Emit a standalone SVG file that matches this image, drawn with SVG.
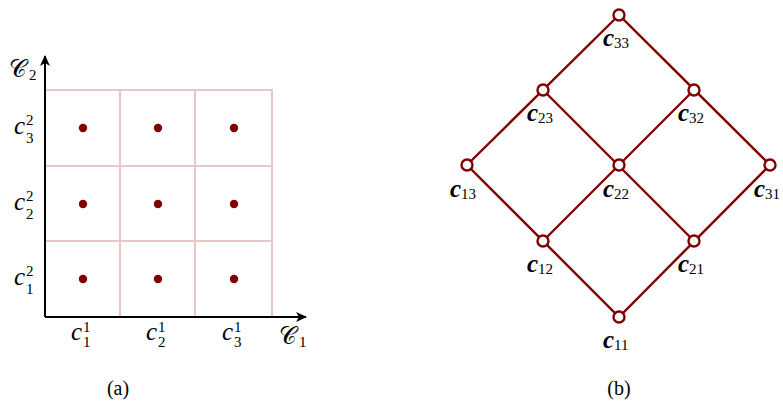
<svg xmlns="http://www.w3.org/2000/svg" width="783" height="407" viewBox="0 0 783 407">
<style>
.grid{stroke:#e6c8c8;stroke-width:2;fill:none}
.axis{stroke:#000;stroke-width:2;fill:none}
.dot{fill:#800000}
.edge{stroke:#800000;stroke-width:2.4;fill:none}
.node{stroke:#800000;stroke-width:2.4;fill:#fff}
.m{font-family:"Liberation Serif",serif;font-style:italic;font-size:25px;fill:#000}
.s{font-family:"Liberation Serif",serif;font-style:normal;font-weight:normal;font-size:15px;fill:#000}
.b{font-family:"Liberation Serif",serif;font-style:italic;font-weight:bold;font-size:25px;fill:#000}
.cal{font-family:"DejaVu Serif","Liberation Serif",serif;font-style:normal;font-size:24px;fill:#000}
.cap{font-family:"Liberation Serif",serif;font-size:20px;fill:#000}
</style>
<defs>
<marker id="arr" markerWidth="12" markerHeight="10" refX="10" refY="5" orient="auto" markerUnits="userSpaceOnUse">
<path d="M0,0 L11,5 L0,10 L3,5 Z" fill="#000"/>
</marker>
</defs>
<g id="panel-a">
<g id="grid">
<path class="grid" d="M45,90 H272 V317 M120,90 V317 M195,90 V317 M45,166 H272 M45,241 H272"/>
</g>
<g id="axes">
<line class="axis" x1="45" y1="317" x2="45" y2="56" marker-end="url(#arr)"/>
<line class="axis" x1="45" y1="317" x2="306" y2="317" marker-end="url(#arr)"/>
</g>
<g id="points">
<circle class="dot" cx="83" cy="128" r="4.2"/><circle class="dot" cx="158" cy="128" r="4.2"/><circle class="dot" cx="234" cy="128" r="4.2"/>
<circle class="dot" cx="83" cy="204" r="4.2"/><circle class="dot" cx="158" cy="204" r="4.2"/><circle class="dot" cx="234" cy="204" r="4.2"/>
<circle class="dot" cx="83" cy="279" r="4.2"/><circle class="dot" cx="158" cy="279" r="4.2"/><circle class="dot" cx="234" cy="279" r="4.2"/>
</g>
<g id="axis-labels">
<text class="cal" x="9" y="77">𝒞</text><text class="s" x="29" y="80">2</text>
<text class="cal" x="279" y="344">𝒞</text><text class="s" x="299" y="347">1</text>
<text class="m" x="14" y="134">c</text><text class="s" x="26" y="125">2</text><text class="s" x="26" y="143">3</text>
<text class="m" x="14" y="210">c</text><text class="s" x="26" y="201">2</text><text class="s" x="26" y="219">2</text>
<text class="m" x="14" y="285">c</text><text class="s" x="26" y="276">2</text><text class="s" x="26" y="294">1</text>
<text class="m" x="71" y="340">c</text><text class="s" x="83" y="332">1</text><text class="s" x="83" y="347">1</text>
<text class="m" x="146" y="340">c</text><text class="s" x="158" y="332">1</text><text class="s" x="158" y="347">2</text>
<text class="m" x="222" y="340">c</text><text class="s" x="234" y="332">1</text><text class="s" x="234" y="347">3</text>
</g>
<text class="cap" x="118" y="395" text-anchor="middle">(a)</text>
</g>
<g id="panel-b">
<g id="connectors">
<path class="edge" d="M619,15 L467,165 L619,317 L770,165 Z M543,90 L694,241 M694,90 L543,241"/>
</g>
<g id="n33"><circle class="node" cx="619" cy="15" r="5.5"/><text class="b" x="603" y="46">c<tspan class="s" dy="2">33</tspan></text></g>
<g id="n23"><circle class="node" cx="543" cy="90" r="5.5"/><text class="b" x="527" y="121">c<tspan class="s" dy="2">23</tspan></text></g>
<g id="n32"><circle class="node" cx="694" cy="90" r="5.5"/><text class="b" x="678" y="121">c<tspan class="s" dy="2">32</tspan></text></g>
<g id="n13"><circle class="node" cx="467" cy="165" r="5.5"/><text class="b" x="450" y="197">c<tspan class="s" dy="2">13</tspan></text></g>
<g id="n22"><circle class="node" cx="619" cy="165" r="5.5"/><text class="b" x="603" y="197">c<tspan class="s" dy="2">22</tspan></text></g>
<g id="n31"><circle class="node" cx="770" cy="165" r="5.5"/><text class="b" x="754" y="197">c<tspan class="s" dy="2">31</tspan></text></g>
<g id="n12"><circle class="node" cx="543" cy="241" r="5.5"/><text class="b" x="527" y="272">c<tspan class="s" dy="2">12</tspan></text></g>
<g id="n21"><circle class="node" cx="694" cy="241" r="5.5"/><text class="b" x="678" y="272">c<tspan class="s" dy="2">21</tspan></text></g>
<g id="n11"><circle class="node" cx="619" cy="317" r="5.5"/><text class="b" x="603" y="348">c<tspan class="s" dy="2">11</tspan></text></g>
<text class="cap" x="619" y="395" text-anchor="middle">(b)</text>
</g>
</svg>
